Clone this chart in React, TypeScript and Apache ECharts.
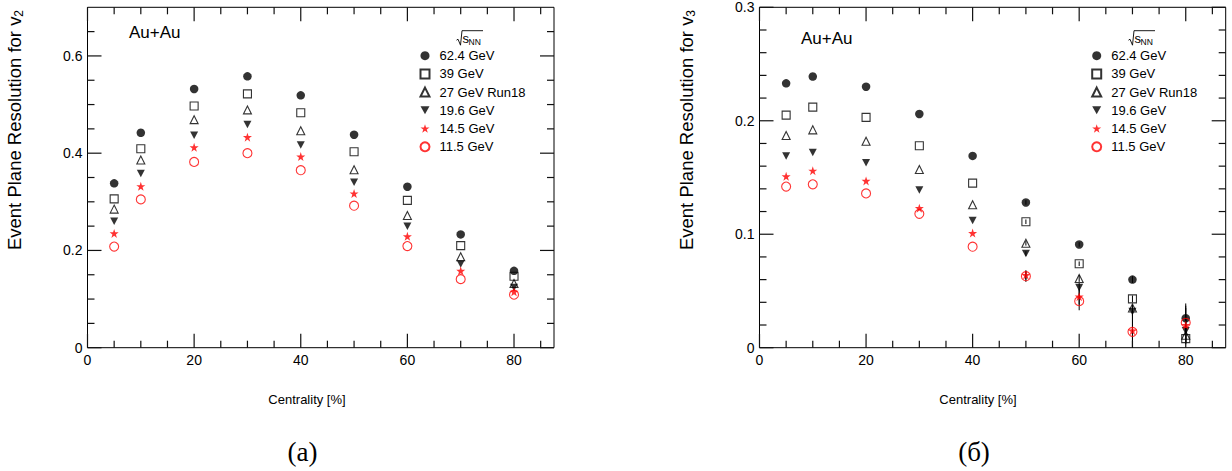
import React, { useEffect, useRef } from 'react';
import * as echarts from 'echarts';

// ---------- data ----------
const centrality = [5, 10, 20, 30, 40, 50, 60, 70, 80];
const energies = ['62.4 GeV', '39 GeV', '27 GeV Run18', '19.6 GeV', '14.5 GeV', '11.5 GeV'];

// Event plane resolution for v2
const v2_624 = [0.338, 0.442, 0.532, 0.558, 0.519, 0.438, 0.331, 0.233, 0.158];
const v2_39 = [0.306, 0.409, 0.497, 0.522, 0.483, 0.403, 0.303, 0.21, 0.147];
const v2_27 = [0.285, 0.386, 0.469, 0.489, 0.446, 0.366, 0.272, 0.187, 0.132];
const v2_196 = [0.26, 0.358, 0.437, 0.459, 0.417, 0.34, 0.25, 0.172, 0.124];
const v2_145 = [0.235, 0.332, 0.412, 0.433, 0.393, 0.317, 0.229, 0.158, 0.115];
const v2_115 = [0.208, 0.305, 0.382, 0.4, 0.365, 0.292, 0.209, 0.141, 0.109];

// Event plane resolution for v3
const v3_624 = [0.233, 0.239, 0.23, 0.206, 0.169, 0.128, 0.091, 0.06, 0.026];
const v3_39 = [0.205, 0.212, 0.203, 0.178, 0.145, 0.111, 0.074, 0.043, 0.008];
const v3_27 = [0.187, 0.192, 0.182, 0.157, 0.126, 0.092, 0.061, 0.035, 0.011];
const v3_196 = [0.169, 0.172, 0.163, 0.139, 0.112, 0.083, 0.053, 0.032, 0.015];
const v3_145 = [0.151, 0.156, 0.147, 0.123, 0.101, 0.064, 0.045, 0.015, 0.02];
const v3_115 = [0.142, 0.144, 0.136, 0.118, 0.089, 0.063, 0.041, 0.014, 0.022];

// statistical errors of v3 for the peripheral bins
const errCentrality = [50, 60, 70, 80];
const v3Err_624 = [0.002, 0.002, 0.003, 0.013];
const v3Err_39 = [0.002, 0.002, 0.003, 0.004];
const v3Err_27 = [0.002, 0.003, 0.003, 0.008];
const v3Err_196 = [0.002, 0.004, 0.004, 0.01];
const v3Err_145 = [0.004, 0.007, 0.02, 0.015];
const v3Err_115 = [0.005, 0.008, 0.02, 0.015];

const v2Series = [v2_624, v2_39, v2_27, v2_196, v2_145, v2_115];
const v3Series = [v3_624, v3_39, v3_27, v3_196, v3_145, v3_115];
const v3Errors = [v3Err_624, v3Err_39, v3Err_27, v3Err_196, v3Err_145, v3Err_115];

// axis ticks
const xMajorTicks = [0, 20, 40, 60, 80];
const xMinorTicks = [5, 10, 15, 25, 30, 35, 45, 50, 55, 65, 70, 75, 85];
const v2MajorTicks = [0, 0.2, 0.4, 0.6];
const v2MinorTicks = [0.05, 0.1, 0.15, 0.25, 0.3, 0.35, 0.45, 0.5, 0.55, 0.65];
const v3MajorTicks = [0, 0.1, 0.2, 0.3];
const v3MinorTicks = [0.02, 0.04, 0.06, 0.08, 0.12, 0.14, 0.16, 0.18, 0.22, 0.24, 0.26, 0.28];
const v2TickLabels = ['0', '0.2', '0.4', '0.6'];
const v3TickLabels = ['0', '0.1', '0.2', '0.3'];
const xTickLabels = ['0', '20', '40', '60', '80'];

// ---------- styles ----------
const FONT = '"Liberation Sans", Arial, Helvetica, sans-serif';
const STAR = 'path://M50,0 L61.8,35.1 L98.9,35.1 L68.9,56.9 L80.3,92 L50,70.3 L19.7,92 L31.1,56.9 L1.1,35.1 L38.2,35.1 Z';
const DOWN_TRI = 'path://M0,0 L10,0 L5,9 Z';
const RED = '#ff0000';
const X_EXT = [0, 87.5];
const V2_EXT = [0, 0.7];
const V3_EXT = [0, 0.3];

const markerStyles = [
  { symbol: 'circle', symbolSize: 8.5, itemStyle: { color: '#000', borderWidth: 0 } },
  { symbol: 'rect', symbolSize: 8, itemStyle: { color: 'rgba(0,0,0,0)', borderColor: '#000', borderWidth: 1.1 } },
  { symbol: 'triangle', symbolSize: 8, itemStyle: { color: 'rgba(0,0,0,0)', borderColor: '#000', borderWidth: 1.1 } },
  { symbol: DOWN_TRI, symbolSize: [8, 7.5], itemStyle: { color: '#000', borderWidth: 0 } },
  { symbol: STAR, symbolSize: 9, itemStyle: { color: RED, borderWidth: 0 } },
  { symbol: 'circle', symbolSize: 9, itemStyle: { color: 'rgba(0,0,0,0)', borderColor: RED, borderWidth: 1.1 } },
];

function labelFrom(list: string[]) {
  return (v: number) => {
    const s = String(Math.round(v * 1000) / 1000);
    return list.indexOf(s) >= 0 ? s : '';
  };
}

function xAxisFor(grid: number, interval: number) {
  return {
    type: 'value', gridIndex: grid, min: X_EXT[0], max: X_EXT[1], interval, position: 'bottom',
    axisLine: { show: false, onZero: false }, axisTick: { show: false }, splitLine: { show: false },
    axisLabel: { show: true, formatter: labelFrom(xTickLabels), color: '#000', fontSize: 14, fontFamily: FONT, margin: 5, showMinLabel: true, showMaxLabel: true },
  };
}
function yAxisFor(grid: number, ext: number[], interval: number, labels: string[]) {
  return {
    type: 'value', gridIndex: grid, min: ext[0], max: ext[1], interval, position: 'left',
    axisLine: { show: false, onZero: false }, axisTick: { show: false }, splitLine: { show: false },
    axisLabel: { show: true, formatter: labelFrom(labels), color: '#000', fontSize: 14, fontFamily: FONT, margin: 5, showMinLabel: true, showMaxLabel: true },
  };
}

const seg = (x1: number, y1: number, x2: number, y2: number) => ({
  type: 'line', shape: { x1, y1, x2, y2 }, style: { stroke: '#000', lineWidth: 1 },
});
// tick mark as a filled thin box (x, y = anchor on frame; dx, dy = extent inward)
const tickBox = (x: number, y: number, dx: number, dy: number) => ({
  type: 'rect', silent: true, z: 100,
  shape: {
    x: Math.min(x, x + dx) - (dx === 0 ? 0.6 : 0),
    y: Math.min(y, y + dy) - (dy === 0 ? 0.6 : 0),
    width: Math.abs(dx) || 1.2,
    height: Math.abs(dy) || 1.2,
  },
  style: { fill: '#111' },
});

function sqrtHeader(x0: number, y0: number) {
  return [
    {
      type: 'polyline', silent: true,
      shape: { points: [[x0 - 0.5, y0 + 9.5], [x0 + 1, y0 + 8.5], [x0 + 3.5, y0 + 14.5], [x0 + 5, y0], [x0 + 26, y0]] },
      style: { stroke: '#000', lineWidth: 0.9, fill: null },
    },
    {
      type: 'text', silent: true, x: x0 + 5.5, y: y0 + 7.5,
      style: { text: 's', font: `13px ${FONT}`, fill: '#000', verticalAlign: 'middle', align: 'left' },
    },
    {
      type: 'text', silent: true, x: x0 + 11.5, y: y0 + 11.5,
      style: { text: 'NN', font: `8.5px ${FONT}`, fill: '#000', verticalAlign: 'middle', align: 'left' },
    },
  ];
}

function yTitle(x: number, sub: string) {
  return {
    type: 'text', silent: true, x, y: 130, rotation: Math.PI / 2,
    style: {
      text: `{a|Event Plane Resolution for v}{b|${sub}}`,
      align: 'center', verticalAlign: 'middle',
      rich: {
        a: { fontSize: 18.5, fontFamily: FONT, fill: '#000', lineHeight: 22 },
        b: { fontSize: 12, fontFamily: FONT, fill: '#000', lineHeight: 12, padding: [10, 0, 0, 0] },
      },
    },
  };
}

// grid placement (pixels)
const GRIDS = [
  { left: 87.5, right: 678, top: 7.3, bottom: 123.3 },
  { left: 759.5, right: 6.3, top: 7.3, bottom: 123.3 },
];

export default function App() {
  const ref = useRef<HTMLDivElement>(null);
  useEffect(() => {
    document.body.style.margin = '0';
    if (!ref.current) return;
    const chart = echarts.init(ref.current, undefined, { renderer: 'svg' });

    const series: any[] = [];
    // error bars (below markers)
    v3Errors.forEach((errs, s) => {
      const vals = v3Series[s];
      series.push({
        type: 'custom', name: 'err' + s, xAxisIndex: 1, yAxisIndex: 1, silent: true, z: 1, clip: true,
        data: errCentrality.map((c, i) => {
          const v = vals[centrality.indexOf(c)];
          return [c, v - errs[i], v + errs[i]];
        }),
        renderItem: (_p: any, api: any) => {
          const x = api.value(0);
          const a = api.coord([x, Math.max(api.value(1), 0)]);
          const b = api.coord([x, api.value(2)]);
          return seg(a[0], a[1], b[0], b[1]);
        },
      });
    });
    [v2Series, v3Series].forEach((group, panel) => {
      group.forEach((vals, s) => {
        series.push({
          type: 'scatter', name: energies[s], xAxisIndex: panel, yAxisIndex: panel, z: 3,
          ...markerStyles[s],
          data: centrality.map((c, i) => [c, vals[i]]),
          emphasis: { disabled: true },
        });
      });
    });

    const legendBase = {
      orient: 'vertical', data: energies, selectedMode: false, padding: 0,
      itemWidth: 9, itemHeight: 9, itemGap: 4.2, top: 48.7,
      textStyle: { color: '#000', fontSize: 13, fontFamily: FONT, lineHeight: 14, padding: [0, 0, 0, 5] },
    };

    const texts: any[] = [
      { type: 'text', silent: true, x: 129, y: 32, style: { text: 'Au+Au', font: `17px ${FONT}`, fill: '#000', verticalAlign: 'middle' } },
      { type: 'text', silent: true, x: 801, y: 38, style: { text: 'Au+Au', font: `17px ${FONT}`, fill: '#000', verticalAlign: 'middle' } },
      ...sqrtHeader(457, 30.7),
      ...sqrtHeader(1129, 30.7),
      yTitle(14, '2'),
      yTitle(686, '3'),
      { type: 'text', silent: true, x: 307, y: 399, style: { text: 'Centrality [%]', font: `13px ${FONT}`, fill: '#000', align: 'center', verticalAlign: 'middle' } },
      { type: 'text', silent: true, x: 978, y: 399, style: { text: 'Centrality [%]', font: `13px ${FONT}`, fill: '#000', align: 'center', verticalAlign: 'middle' } },
      { type: 'text', silent: true, x: 302.5, y: 452, style: { text: '(a)', font: `27px "Liberation Serif", "DejaVu Serif", serif`, fill: '#000', align: 'center', verticalAlign: 'middle' } },
      { type: 'text', silent: true, x: 974, y: 452, style: { text: '(б)', font: `27px "Liberation Serif", "DejaVu Serif", serif`, fill: '#000', align: 'center', verticalAlign: 'middle' } },
    ];

    // inward frame ticks on all four sides; positions come from the axes' linear scales
    const W = 1232;
    const H = 471;
    const ticks: any[] = [];
    const panels = [
      { g: GRIDS[0], yExt: V2_EXT, yMajor: v2MajorTicks, yMinor: v2MinorTicks },
      { g: GRIDS[1], yExt: V3_EXT, yMajor: v3MajorTicks, yMinor: v3MinorTicks },
    ];
    panels.forEach((p) => {
      const x0 = p.g.left;
      const x1 = W - p.g.right;
      const y0 = H - p.g.bottom;
      const y1 = p.g.top;
      const sx = (v: number) => x0 + ((v - X_EXT[0]) / (X_EXT[1] - X_EXT[0])) * (x1 - x0);
      const sy = (v: number) => y0 - ((v - p.yExt[0]) / (p.yExt[1] - p.yExt[0])) * (y0 - y1);
      const addX = (list: number[], len: number) => list.forEach((t) => {
        ticks.push(tickBox(sx(t), y0, 0, -len), tickBox(sx(t), y1, 0, len));
      });
      const addY = (list: number[], len: number) => list.forEach((t) => {
        ticks.push(tickBox(x0, sy(t), len, 0), tickBox(x1, sy(t), -len, 0));
      });
      addX(xMajorTicks, 14);
      addX(xMinorTicks, 7);
      addY(p.yMajor, 14);
      addY(p.yMinor, 7);
    });

    chart.setOption({
      animation: false,
      backgroundColor: '#fff',
      textStyle: { fontFamily: FONT },
      grid: GRIDS.map((g) => ({ ...g, containLabel: false, show: true, borderColor: '#000', borderWidth: 1, backgroundColor: 'rgba(0,0,0,0)' })),
      xAxis: [xAxisFor(0, 20), xAxisFor(1, 20)],
      yAxis: [yAxisFor(0, V2_EXT, 0.2, v2TickLabels), yAxisFor(1, V3_EXT, 0.1, v3TickLabels)],
      legend: [
        { ...legendBase, left: 419.5 },
        { ...legendBase, left: 1091.2 },
      ],
      series,
      graphic: { elements: [...texts, ...ticks] },
    });

    return () => chart.dispose();
  }, []);
  return <div ref={ref} style={{ width: 1232, height: 471 }} />;
}
